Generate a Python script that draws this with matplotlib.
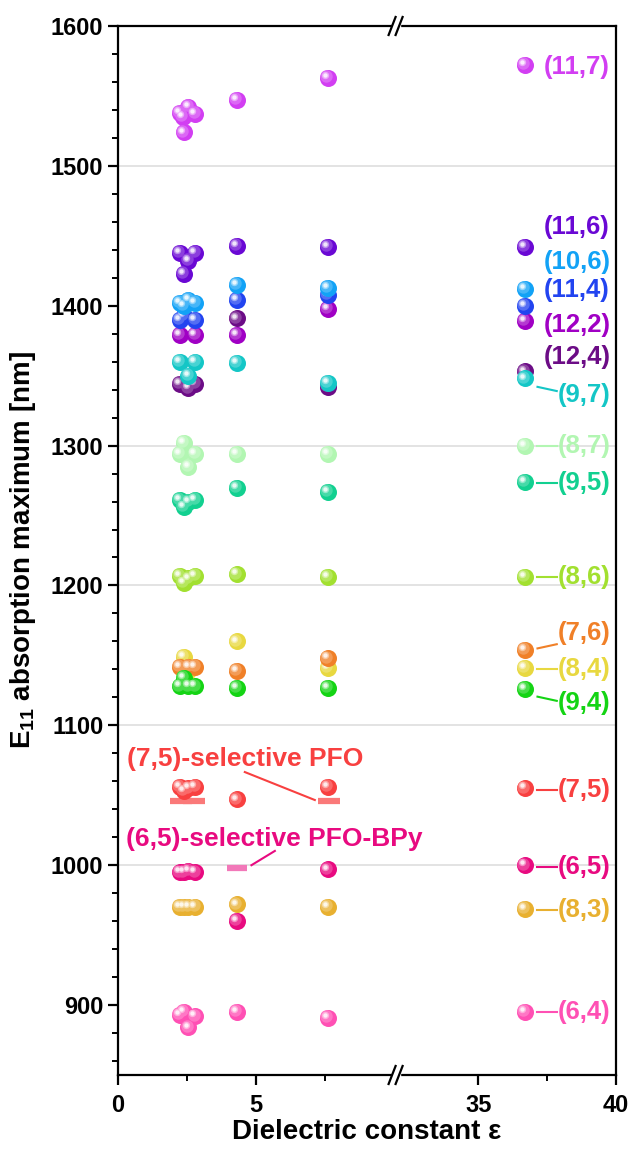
import numpy as np
import matplotlib
matplotlib.use('Agg')
import matplotlib.pyplot as plt
from matplotlib.colors import to_rgb
from matplotlib.ticker import MultipleLocator
from matplotlib.transforms import offset_copy
from matplotlib.lines import Line2D
from matplotlib.patches import Rectangle

plt.rcParams['font.family'] = ['Liberation Sans', 'DejaVu Sans']
plt.rcParams['font.weight'] = 'bold'
plt.rcParams['axes.labelweight'] = 'bold'
plt.rcParams['mathtext.fontset'] = 'custom'
plt.rcParams['mathtext.rm'] = 'Liberation Sans:bold'
plt.rcParams['mathtext.bf'] = 'Liberation Sans:bold'

# dielectric constants of the solvents (4 close ones near 2.3, then 3 more)
eps = [2.25, 2.35, 2.4, 2.55, 2.8, 4.3, 7.6, 36.7]

# E11 maxima (nm), one value per solvent, nan = not measured
nan = np.nan
e11_12_2 = [1379, nan, nan, nan, 1379, 1379, 1398, 1389]
e11_11_4 = [1390, nan, 1393, nan, 1390, 1404, 1408, 1400]
e11_10_6 = [1402, nan, 1400, 1404, 1402, 1415, 1413, 1412]
e11_11_6 = [1438, nan, 1423, 1432, 1438, 1443, 1442, 1442]
e11_11_7 = [1538, 1535, 1524, 1542, 1537, 1547, 1563, 1572]
e11_12_4 = [1344, nan, nan, 1341, 1344, 1391, 1342, 1353]
e11_9_7 = [1360, nan, nan, 1350, 1360, 1359, 1345, 1348]
e11_8_7 = [1294, nan, 1302, 1285, 1294, 1294, 1294, 1300]
e11_9_5 = [1261, nan, 1256, 1260, 1261, 1270, 1267, 1274]
e11_8_6 = [1207, nan, 1202, 1205, 1207, 1208, 1206, 1206]
e11_8_4 = [nan, nan, 1149, 1139, nan, 1160, 1141, 1141]
e11_7_6 = [1142, nan, nan, 1142, 1142, 1139, 1148, 1154]
e11_9_4 = [1128, nan, 1134, 1128, 1128, 1127, 1127, 1126]
e11_7_5 = [1056, nan, 1053, 1055, 1056, 1047, 1056, 1055]
e11_6_5 = [995, nan, 995, 996, 995, 960, 997, 1000]
e11_8_3 = [970, nan, 970, 970, 970, 972, 970, 969]
e11_6_4 = [893, nan, 895, 884, 892, 895, 891, 895]

species = [
    ('(12,2)', '#a000c4', e11_12_2),
    ('(11,4)', '#2244f0', e11_11_4),
    ('(10,6)', '#12a2f6', e11_10_6),
    ('(11,6)', '#6a08d4', e11_11_6),
    ('(11,7)', '#d23ef2', e11_11_7),
    ('(12,4)', '#6c0c86', e11_12_4),
    ('(9,7)', '#14c6c6', e11_9_7),
    ('(8,7)', '#b2f6b2', e11_8_7),
    ('(9,5)', '#12d090', e11_9_5),
    ('(8,6)', '#a2e030', e11_8_6),
    ('(8,4)', '#e8d840', e11_8_4),
    ('(7,6)', '#f08028', e11_7_6),
    ('(9,4)', '#14d414', e11_9_4),
    ('(7,5)', '#f84040', e11_7_5),
    ('(6,5)', '#e80a80', e11_6_5),
    ('(8,3)', '#e8b030', e11_8_3),
    ('(6,4)', '#ff50b4', e11_6_4),
]

# polymer-selective samples (short bars)
pfo_eps = [2.3, 2.75, 7.65]
pfo_e11 = [1046, 1046, 1046]
bpy_eps = [4.3]
bpy_e11 = [998]

# right hand labels: text y, leader start y, leader end y
label_y = {'(11,7)': 1571, '(11,6)': 1456, '(10,6)': 1431, '(11,4)': 1411,
           '(12,2)': 1386, '(12,4)': 1363, '(9,7)': 1336, '(8,7)': 1300,
           '(9,5)': 1273, '(8,6)': 1206, '(7,6)': 1166, '(8,4)': 1140,
           '(9,4)': 1116, '(7,5)': 1054, '(6,5)': 999, '(8,3)': 968,
           '(6,4)': 895}
leader = {'(9,7)': (1342, 1339), '(8,7)': (1300, 1300), '(9,5)': (1273, 1273),
          '(8,6)': (1206, 1206), '(7,6)': (1155, 1158), '(8,4)': (1140, 1140),
          '(9,4)': (1120.5, 1117.5), '(7,5)': (1054, 1054), '(6,5)': (999, 999),
          '(8,3)': (968, 968), '(6,4)': (895, 895)}

W, H = 632, 1159
fig = plt.figure(figsize=(W / 100, H / 100), dpi=100)
left, brk, right = 118 / W, 395.6 / W, 616 / W
bottom, top = 1 - 1075 / H, 1 - 26 / H
ax1 = fig.add_axes([left, bottom, brk - left, top - bottom])
ax2 = fig.add_axes([brk, bottom, right - brk, top - bottom], sharey=ax1)


def mix(c, f):
    r = np.array(to_rgb(c))
    return tuple(r + (1 - r) * f)


def balls(ax, xs, ys, color):
    # fake glossy sphere: base, lighter inner disc, white highlight
    ax.scatter(xs, ys, s=150, color=color, linewidths=0, zorder=3)
    t1 = offset_copy(ax.transData, fig=fig, x=-1.2, y=1.2, units='points')
    ax.scatter(xs, ys, s=80, color=mix(color, 0.22), transform=t1, linewidths=0, zorder=3)
    t2 = offset_copy(ax.transData, fig=fig, x=-2.0, y=2.0, units='points')
    ax.scatter(xs, ys, s=28, color=mix(color, 0.55), transform=t2, linewidths=0, zorder=3)
    ax.scatter(xs, ys, s=10, color=mix(color, 0.9), transform=t2, linewidths=0, zorder=3)


for ax in (ax1, ax2):
    for g in [1000, 1100, 1200, 1300, 1500]:
        ax.axhline(g, color='#dedede', lw=1.2, zorder=0)

eps_arr = np.array(eps)
for name, col, vals in species:
    v = np.array(vals, dtype=float)
    ok = ~np.isnan(v)
    lo = ok & (eps_arr < 20)
    hi = ok & (eps_arr > 20)
    balls(ax1, eps_arr[lo], v[lo], col)
    balls(ax2, eps_arr[hi], v[hi], col)

ax1.plot(pfo_eps, pfo_e11, ls='none', marker='_', ms=16, mew=4.5,
         color=mix('#f84040', 0.3), zorder=2)
ax1.plot(bpy_eps, bpy_e11, ls='none', marker='_', ms=15, mew=4.5,
         color=mix('#e80a80', 0.45), zorder=2)

# annotations
ax1.text(4.6, 1076, '(7,5)-selective PFO', color='#f84040', fontsize=19,
         ha='center', va='center', zorder=5)
ax1.plot([4.6, 7.14], [1066.6, 1046.6], color='#f84040', lw=1.5, zorder=4)
ax1.text(5.67, 1018.6, '(6,5)-selective PFO-BPy', color='#e80a80', fontsize=19,
         ha='center', va='center', zorder=5, clip_on=False)
ax1.plot([5.69, 4.84], [1010.2, 1000], color='#e80a80', lw=1.5, zorder=4)

# right labels
for name, col, vals in species:
    y = label_y[name]
    if name in leader:
        y0, y1 = leader[name]
        ax2.plot([37.15, 37.85], [y0, y1], color=col, lw=1.5, zorder=4, clip_on=False)
        x = 37.88
    else:
        x = 37.36
    ax2.text(x, y, name, color=col, fontsize=18.5, ha='left', va='center',
             clip_on=False, zorder=5)

ax1.set_xlim(0, 10.07)
ax2.set_xlim(32, 40)
ax1.set_ylim(850, 1600)
ax1.set_xticks([0, 5])
ax1.set_xticks([2.5, 7.5], minor=True)
ax2.set_xticks([35, 40])
ax2.set_xticks([37.5], minor=True)
ax1.set_yticks(range(900, 1601, 100))
ax1.yaxis.set_minor_locator(MultipleLocator(20))

ax1.spines['right'].set_visible(False)
ax2.spines['left'].set_visible(False)
for ax in (ax1, ax2):
    for s in ax.spines.values():
        s.set_linewidth(1.6)
    ax.tick_params(which='major', length=7, width=1.6, labelsize=17, direction='out')
    ax.tick_params(which='minor', length=4, width=1.4, direction='out')
    ax.set_facecolor('none')
ax2.tick_params(axis='y', which='both', left=False, labelleft=False)
ax1.tick_params(axis='x', pad=7)
ax2.tick_params(axis='x', pad=7)

ax1.set_ylabel(r'E$_{\mathbf{11}}$ absorption maximum [nm]', fontsize=20,
               fontweight='bold', labelpad=9)
fig.text(367 / W, 1 - 1132 / H, 'Dielectric constant ε', fontsize=20,
         ha='center', va='center')

# break marks on top and bottom spines
for yp in (26, 1075):
    yf = 1 - yp / H
    fig.add_artist(Rectangle((392 / W, yf - 3 / H), 8 / W, 6 / H, transform=fig.transFigure,
                             color='white', zorder=10))
    for dx in (-3.5, 3.5):
        xc = 395.6 + dx
        fig.add_artist(Line2D([(xc - 3.5) / W, (xc + 3.5) / W], [yf - 9 / H, yf + 9 / H],
                              transform=fig.transFigure, color='black', lw=1.6, zorder=11))

fig.savefig('out.png', dpi=100)
